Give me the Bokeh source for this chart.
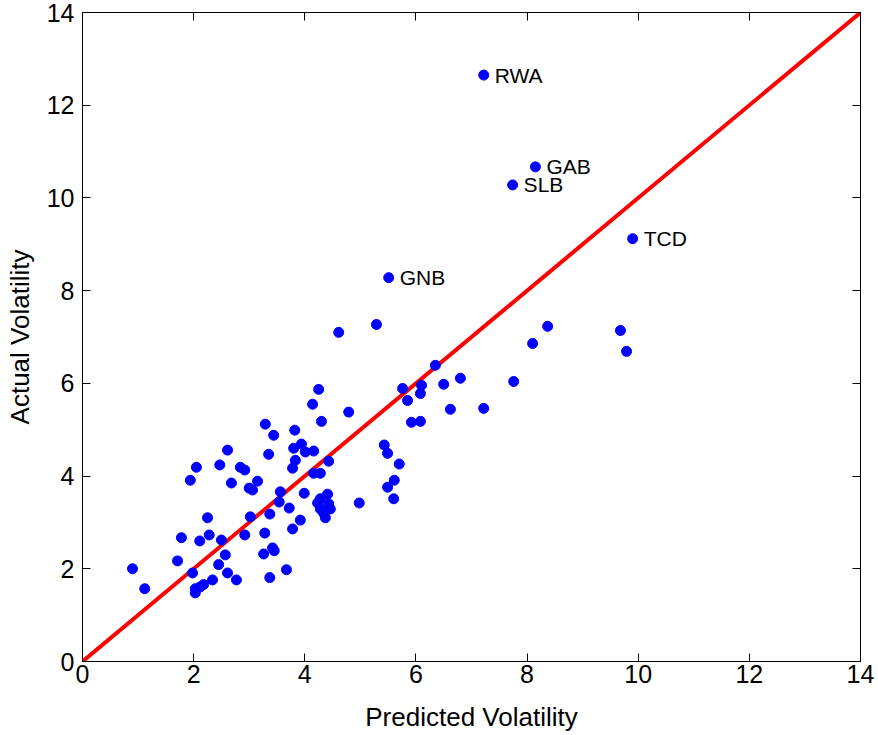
from bokeh.plotting import figure
from bokeh.models import ColumnDataSource, LinearAxis, FixedTicker, Range1d
from bokeh.core.properties import value
from bokeh.embed import file_html
from bokeh.resources import INLINE

predicted = [7.22, 8.15, 7.74, 9.90, 5.51,
             5.29, 4.61, 8.37, 9.68, 9.79, 8.10, 6.35, 6.80, 6.50, 6.10, 6.08, 5.76, 5.85,
             7.76, 6.62, 7.22, 5.92, 6.08, 4.79, 5.43, 5.49, 5.70, 5.61, 5.49, 5.60, 4.98,
             4.25, 4.14, 4.30, 3.29, 3.82, 3.44, 3.80, 3.94, 4.01, 4.16, 3.35, 3.83, 4.43,
             3.78, 4.16, 4.28, 3.15, 3.06, 3.00, 3.56, 3.99, 3.54,
             4.41, 4.28, 4.23, 4.43, 4.28, 4.46, 4.34, 4.37,
             3.72, 3.37, 3.92, 3.28, 3.78, 3.02, 2.61, 2.05, 2.47, 2.84, 2.92, 1.94, 2.68,
             2.25, 1.78, 2.11, 2.28, 2.50, 2.92, 1.71, 2.57, 2.45, 3.26, 3.42, 3.45,
             0.90, 1.12, 1.98, 2.61, 2.77, 2.34, 2.18, 2.03, 2.03, 2.12, 3.37, 3.67]
actual = [12.65, 10.67, 10.28, 9.12, 8.28,
          7.27, 7.10, 7.23, 7.14, 6.69, 6.86, 6.39, 6.11, 5.98, 5.96, 5.78, 5.89, 5.63,
          6.04, 5.44, 5.46, 5.16, 5.18, 5.38, 4.67, 4.49, 4.26, 3.91, 3.76, 3.51, 3.42,
          5.87, 5.55, 5.18, 5.12, 4.99, 4.88, 4.60, 4.69, 4.52, 4.54, 4.47, 4.34, 4.32,
          4.17, 4.06, 4.06, 3.89, 3.70, 3.74, 3.66, 3.63, 3.44,
          3.61, 3.51, 3.42, 3.40, 3.29, 3.29, 3.20, 3.10,
          3.31, 3.18, 3.05, 2.77, 2.86, 3.12, 4.56, 4.19, 4.24, 4.19, 4.13, 3.91, 3.85,
          3.10, 2.67, 2.60, 2.73, 2.62, 2.73, 2.17, 2.30, 2.09, 2.32, 2.45, 2.39,
          2.00, 1.57, 1.91, 1.91, 1.76, 1.76, 1.66, 1.57, 1.48, 1.61, 1.81, 1.98]

label_names = ["RWA", "GAB", "SLB", "TCD", "GNB"]
label_x = [7.22, 8.15, 7.74, 9.90, 5.51]
label_y = [12.65, 10.67, 10.28, 9.12, 8.28]

diag = [0, 14]
ticks = [0, 2, 4, 6, 8, 10, 12, 14]

FONT = "Liberation Sans"

p = figure(width=878, height=735, output_backend="svg", toolbar_location=None,
           x_range=Range1d(0, 14), y_range=Range1d(0, 14),
           min_border_left=82, min_border_right=18, min_border_top=12, min_border_bottom=74)
p.xgrid.visible = False
p.ygrid.visible = False
p.outline_line_color = "black"
p.outline_line_width = 1
p.background_fill_color = "white"
p.border_fill_color = "white"

for ax in (p.xaxis[0], p.yaxis[0]):
    ax.ticker = FixedTicker(ticks=ticks)
    ax.minor_tick_line_color = None
    ax.major_tick_in = 8
    ax.major_tick_out = 0
    ax.axis_line_color = "black"
    ax.major_tick_line_color = "black"
    ax.major_label_text_font = FONT
    ax.major_label_text_font_size = "25px"
    ax.major_label_text_color = "black"
    ax.major_label_text_line_height = 1.0
    ax.axis_label_text_font = FONT
    ax.axis_label_text_font_size = "26px"
    ax.axis_label_text_font_style = "normal"
    ax.axis_label_text_color = "black"
    ax.axis_label_text_line_height = 1.0

p.xaxis.axis_label = "Predicted Volatility"
p.yaxis.axis_label = "Actual Volatility"
p.xaxis.major_label_standoff = 3
p.yaxis.major_label_standoff = 8
p.xaxis.axis_label_standoff = 16
p.yaxis.axis_label_standoff = 9

for loc in ("above", "right"):
    ax = LinearAxis(ticker=FixedTicker(ticks=ticks))
    ax.minor_tick_line_color = None
    ax.major_tick_in = 8
    ax.major_tick_out = 0
    ax.major_label_text_font_size = "0px"
    ax.major_label_text_color = None
    ax.major_label_text_alpha = 0
    ax.major_label_standoff = 0
    ax.axis_line_color = "black"
    p.add_layout(ax, loc)

p.line(diag, diag, line_color="red", line_width=4)

src = ColumnDataSource(dict(x=predicted, y=actual))
p.scatter("x", "y", source=src, size=10, fill_color="blue", line_color="blue")

lsrc = ColumnDataSource(dict(x=label_x, y=label_y, t=label_names))
p.text("x", "y", text="t", source=lsrc, x_offset=11, y_offset=0,
       text_baseline="middle", text_align="left", text_font=value(FONT),
       text_font_size="21px", text_color="black")

open("out.html", "w").write(file_html(p, INLINE))
